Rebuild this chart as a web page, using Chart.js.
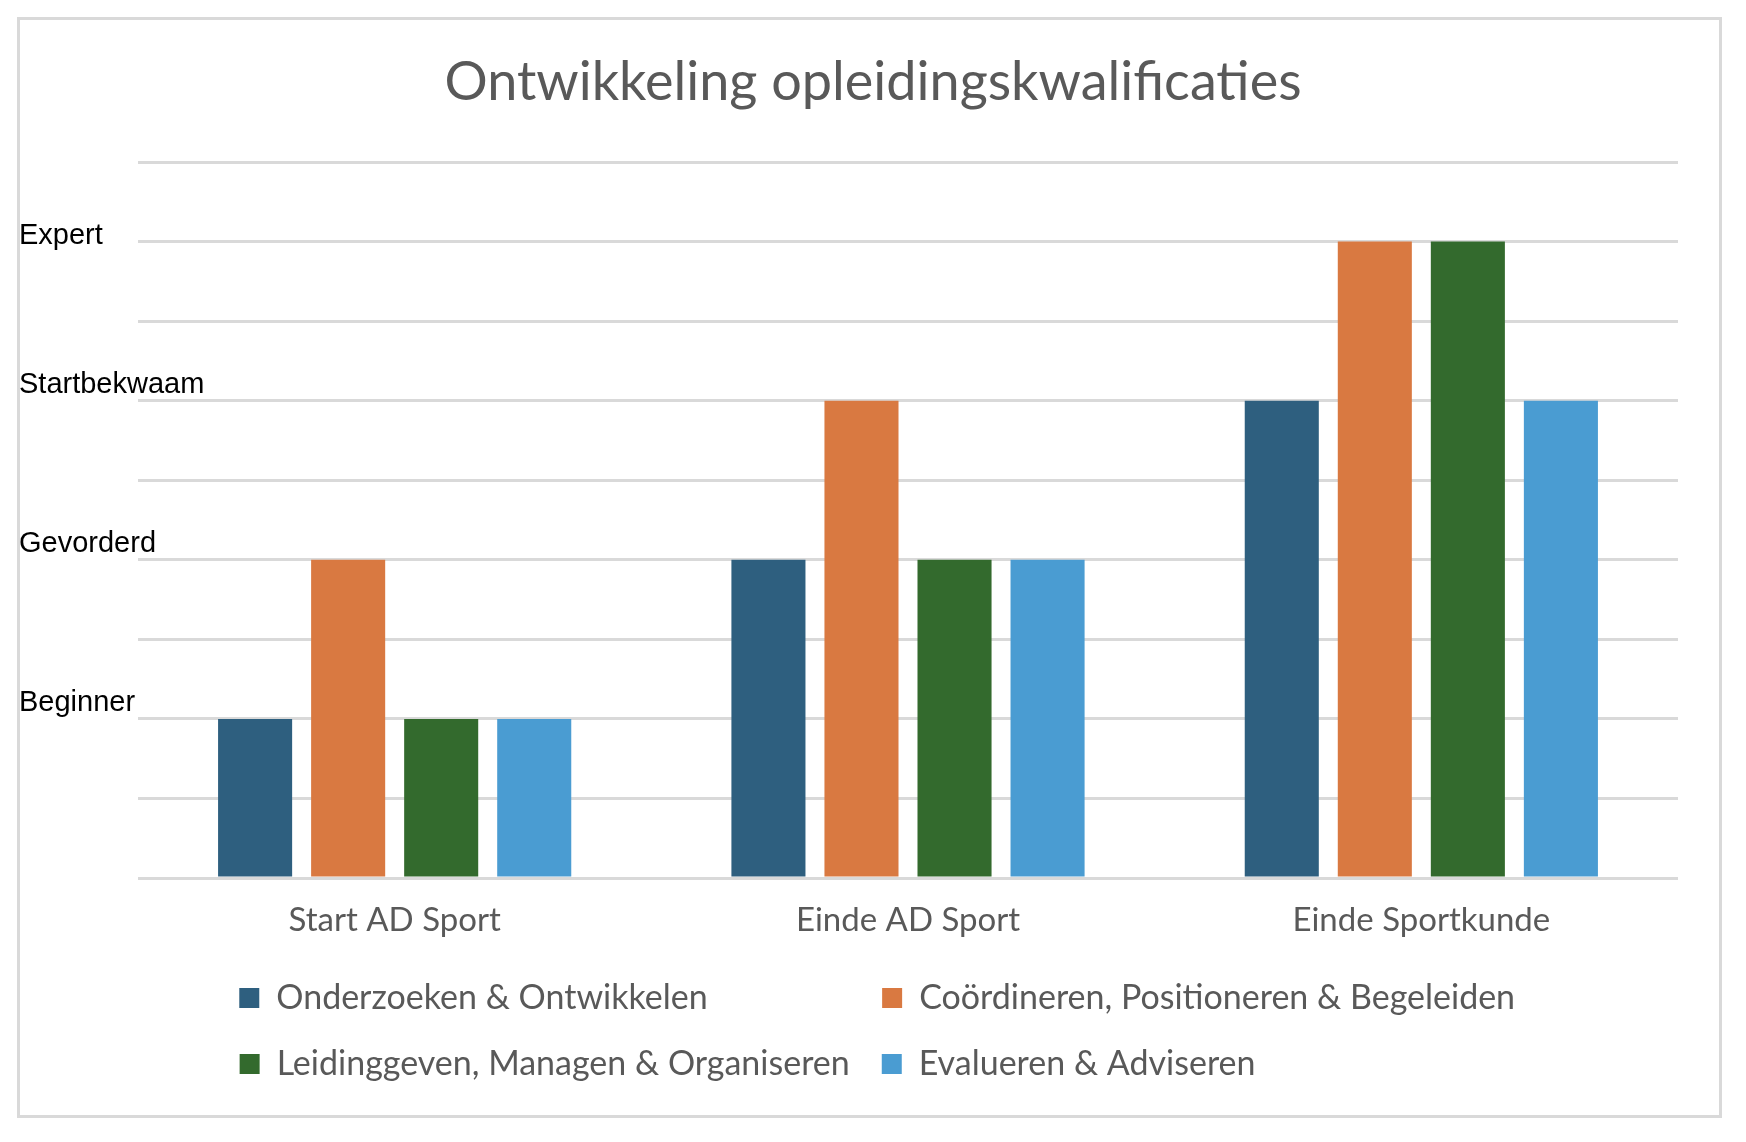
<!DOCTYPE html>
<html>
<head>
<meta charset="utf-8">
<script src="https://cdn.jsdelivr.net/npm/chart.js@4.4.1/dist/chart.umd.min.js"></script>
<style>
  html, body { margin: 0; padding: 0; background: #fff; }
  #frame { position: absolute; left: 17px; top: 17px; width: 1705px; height: 1101px; box-sizing: border-box; border: 3px solid #d9d9d9; }
  #wrap { position: absolute; left: 0; top: 0; width: 1746px; height: 1142px; }
</style>
</head>
<body>
<div id="frame"></div>
<div id="wrap"><canvas id="myChart"></canvas></div>
<script>
const categories = ["Start AD Sport", "Einde AD Sport", "Einde Sportkunde"];
const seriesNames = [
  "Onderzoeken & Ontwikkelen",
  "Coördineren, Positioneren & Begeleiden",
  "Leidinggeven, Managen & Organiseren",
  "Evalueren & Adviseren",
];
const onderzoeken = [2, 4, 6];
const coordineren = [4, 6, 8];
const leidinggeven = [2, 4, 8];
const evalueren = [2, 4, 6];
const levelValues = [2, 4, 6, 8];
const levelNames = ["Beginner", "Gevorderd", "Startbekwaam", "Expert"];

const colors = ["#2e5f7f", "#d97941", "#336a2d", "#4a9cd2"];
const grey = "#595959";
const gridGrey = "#d9d9d9";
const legendFont = "34px Lato";

// pad legend texts so the two legend rows line up in columns
const padText = (ctx, text, target) => {
  const hair = ctx.measureText("\u200A").width > 0 ? "\u200A" : " ";
  let out = text;
  let n = 0;
  while (ctx.measureText(out).width < target && n < 600) {
    out += hair;
    n++;
  }
  return out;
};

const ctx = document.getElementById("myChart");

const myChart = new Chart(ctx, {
  type: "bar",
  data: {
    labels: categories,
    datasets: [onderzoeken, coordineren, leidinggeven, evalueren].map((values, i) => ({
      label: seriesNames[i],
      data: values,
      backgroundColor: colors[i],
      borderWidth: 0,
      categoryPercentage: 0.725,
      barPercentage: 0.796,
    })),
  },
  options: {
    responsive: true,
    maintainAspectRatio: false,
    animation: false,
    layout: {
      padding: { left: 19, right: 19, top: 0, bottom: 51 },
    },
    plugins: {
      title: {
        display: true,
        text: "Ontwikkeling opleidingskwalificaties",
        color: grey,
        font: { family: "Lato", size: 54, weight: "normal" },
        padding: { top: 50, bottom: 47.2 },
      },
      tooltip: { enabled: false },
      legend: {
        position: "bottom",
        fullSize: false,
        labels: {
          color: grey,
          font: { family: "Lato", size: 34 },
          boxWidth: 20,
          boxHeight: 20,
          padding: 32,
          generateLabels: (chart) => {
            const items = Chart.defaults.plugins.legend.labels.generateLabels(chart);
            const c = chart.ctx;
            c.save();
            c.font = legendFont;
            const w = items.map((it) => c.measureText(it.text).width);
            const col1 = Math.max(573, w[0], w[2]);
            const col2 = Math.max(657, w[1], w[3]);
            items.forEach((it, i) => {
              it.text = padText(c, it.text, i % 2 === 0 ? col1 : col2);
              it.lineWidth = 0;
            });
            c.restore();
            return items;
          },
        },
      },
    },
    scales: {
      x: {
        grid: { display: false },
        border: { display: false },
        ticks: {
          color: grey,
          font: { family: "Lato", size: 33 },
          padding: 15,
        },
        afterFit: (scale) => {
          scale.height = 71;
        },
      },
      y: {
        min: 0,
        max: 9,
        border: { display: false },
        grid: {
          color: gridGrey,
          lineWidth: 3,
          drawTicks: false,
        },
        ticks: {
          stepSize: 1,
          color: "#000",
          // Expert sits closer to its line than the other levels
          font: (c) => ({
            family: "Liberation Sans",
            size: 29,
            lineHeight: c.tick && c.tick.value === 8 ? "21px" : 1.2,
          }),
          mirror: true,
          crossAlign: "near",
          padding: -119,
          labelOffset: -16,
          callback: (value) => {
            const k = levelValues.indexOf(value);
            if (k < 0) return "";
            return value === 8 ? ["", levelNames[k]] : levelNames[k];
          },
        },
        afterFit: (scale) => {
          scale.width = 119;
        },
      },
      // empty right margin so the title centres on the whole frame
      yRight: {
        position: "right",
        grid: { display: false },
        border: { display: false },
        ticks: { display: false },
        afterFit: (scale) => {
          scale.width = 49;
        },
      },
    },
  },
});
</script>
</body>
</html>
